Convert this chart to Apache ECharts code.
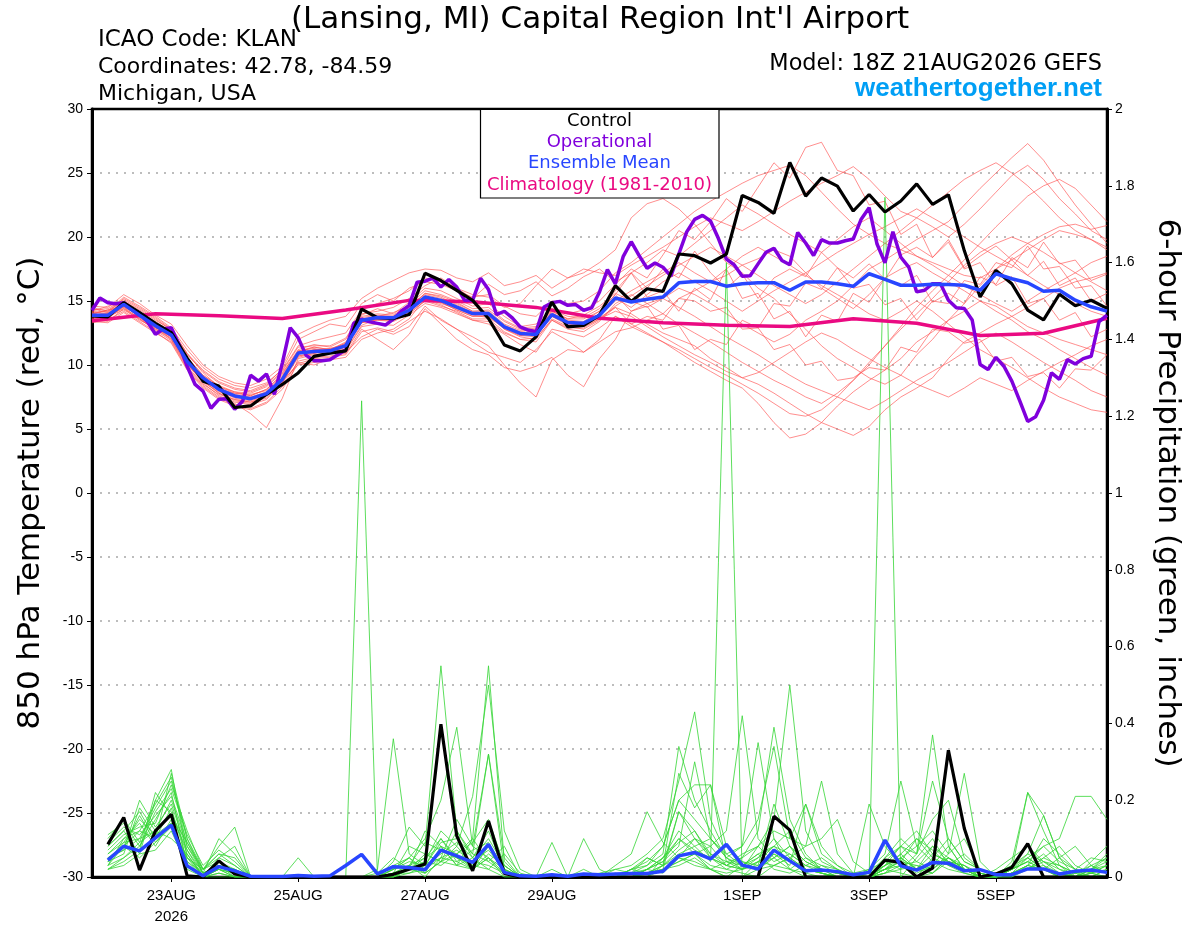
<!DOCTYPE html>
<html><head><meta charset="utf-8">
<script src="https://cdn.jsdelivr.net/npm/echarts@6/dist/echarts.min.js"></script>
<style>html,body{margin:0;padding:0;background:#fff}#chart{width:1200px;height:927px}</style>
</head><body><div id="chart"></div>
<script>
// x positions are hours after 18Z 21AUG2026 (6-hourly ensemble, 3-hourly operational)
const tickHours = [30, 78, 126, 174, 246, 294, 342];
const tickLabels = ['23AUG\n2026', '25AUG', '27AUG', '29AUG', '1SEP', '3SEP', '5SEP'];

const controlTemp = [
 13.84,13.76,14.87,14.1,13.25,12.53,10.54,8.74,8.35,6.68,
 6.8,7.71,8.48,9.38,10.67,10.93,11.11,14.36,13.69,13.63,
 13.94,17.17,16.6,15.83,15.05,13.63,11.56,11.1,12.2,14.92,
 12.98,13.1,13.9,16.2,14.97,15.96,15.75,18.67,18.54,17.97,
 18.67,23.24,22.7,21.85,25.83,23.19,24.61,23.97,22.03,23.32,
 21.95,22.81,24.15,22.55,23.3,18.94,15.32,17.39,16.35,14.29,
 13.52,15.53,14.63,15.06,14.42];

const meanTemp = [
 13.89,13.89,14.74,13.89,13.07,12.35,10.28,8.99,8.09,7.58,
 7.37,7.76,8.87,10.93,11.06,11.11,11.52,13.5,13.71,13.69,
 14.28,15.31,15.05,14.53,14.02,14.02,12.98,12.47,12.39,13.94,
 13.32,13.27,13.89,15.23,14.92,15.13,15.31,16.42,16.52,16.52,
 16.16,16.34,16.43,16.43,15.84,16.48,16.48,16.35,16.15,17.13,
 16.69,16.23,16.23,16.3,16.28,16.23,15.84,17.13,16.74,16.43,
 15.76,15.84,15.06,14.55,14.21];

const operationalTemp = [
 14.28,15.23,14.87,14.79,14.87,14.41,14.02,13.38,12.4,12.81,
 12.91,11.57,9.9,8.48,7.96,6.62,7.32,7.37,6.55,7.19,
 9.2,8.74,9.3,7.71,10.15,12.91,12.14,10.75,10.34,10.34,
 10.41,10.8,11.19,13.25,13.58,13.38,13.25,13.12,13.58,14.2,
 14.66,16.47,16.55,16.78,16.09,16.68,16.09,15.05,15.05,16.78,
 15.9,13.94,14.2,13.68,12.98,12.73,12.6,14.53,14.87,14.97,
 14.66,14.72,14.28,14.46,15.7,17.45,16.34,18.49,19.63,18.54,
 17.56,17.97,17.64,16.94,18.67,20.4,21.38,21.69,21.25,19.88,
 18.28,17.82,16.94,16.97,17.9,18.81,19.12,18.16,17.83,20.35,
 19.53,18.55,19.79,19.53,19.53,19.71,19.84,21.39,22.29,19.45,
 17.98,20.41,18.42,17.65,15.71,15.84,16.35,16.35,15.06,14.47,
 14.42,13.52,10.03,9.65,10.6,9.9,8.74,7.19,5.59,5.95,
 7.25,9.39,8.87,10.42,10.08,10.5,10.68,13.39,13.9];

const climHours = [0,24,48,72,96,120,144,168,192,216,240,264,288,312,336,360,384];
const climTemp = [13.45,14.0,13.84,13.63,14.3,15.05,14.95,14.5,13.65,13.3,13.1,13.0,13.62,13.26,12.3,12.48,13.65];

const tempMembers = [
 [14.2,14.0,15.0,14.3,13.5,12.8,10.9,9.4,8.3,7.9,7.6,8.1,9.3,11.2,11.6,11.4,12.0,13.9,14.4,14.0,14.9,
  16.0,15.8,15.2,14.6,14.8,13.8,13.0,13.2,14.4,14.0,14.3,15.0,
  16.3,17.5,16.8,18.6,20.5,19.8,21.2,23.0,22.0,23.9,25.8,24.6,27.0,27.4,25.2,24.8,22.5,22.8,20.2,21.0,18.4,19.8,17.6,18.5,19.3,18.2,17.0,18.1,16.2,16.8,15.0,15.6],
 [13.6,13.8,14.5,13.6,12.7,11.9,9.8,8.4,7.5,7.0,6.2,5.1,7.4,10.5,10.8,10.9,11.1,13.0,13.2,13.1,13.9,
  14.8,14.5,14.0,13.5,13.2,12.4,11.6,11.0,12.8,12.5,12.2,12.9,
  13.8,13.0,12.4,11.8,11.0,10.2,9.5,8.8,8.2,7.0,5.5,4.3,4.6,5.5,6.8,7.9,8.8,9.6,10.5,11.8,12.6,13.5,14.2,15.0,14.6,13.8,13.0,12.5,12.0,11.6,11.2,10.8],
 [14.5,14.2,15.3,14.6,13.8,12.9,11.2,9.8,8.9,8.4,8.2,8.6,9.6,11.5,11.9,12.2,12.5,14.3,14.8,15.2,15.8,
  16.8,16.5,16.0,15.5,15.3,14.5,14.8,16.2,17.5,16.8,17.2,18.0,
  19.0,21.5,22.6,23.0,22.2,21.0,19.5,18.0,17.2,16.0,15.2,14.0,12.8,11.5,10.5,9.8,9.0,8.5,9.2,10.8,12.0,13.5,14.8,16.2,17.5,18.6,19.5,20.2,20.8,21.0,20.6,20.9],
 [13.3,13.5,14.2,13.4,12.6,11.7,9.6,8.2,7.3,6.8,6.5,7.0,8.1,10.1,10.5,10.6,10.8,12.6,12.9,12.6,13.4,
  14.2,13.6,12.8,12.2,11.5,10.0,8.6,7.5,10.4,11.2,11.0,11.8,
  12.6,12.9,13.5,14.0,15.2,15.8,16.5,17.0,17.8,18.3,19.0,18.5,17.2,16.0,15.2,14.4,15.5,16.8,17.5,18.0,17.2,16.5,15.8,15.0,14.2,13.5,12.6,12.0,11.2,10.5,9.8,9.2],
 [14.0,14.3,14.9,14.0,13.2,12.5,10.6,9.2,8.4,7.9,7.8,8.3,9.4,11.1,11.3,11.0,11.6,13.3,13.8,14.1,14.6,
  15.5,15.2,14.8,14.2,14.3,13.4,12.8,12.5,14.2,13.6,13.9,14.6,
  15.6,15.0,14.5,15.2,16.0,15.5,14.8,14.0,13.2,12.5,11.8,12.4,13.5,14.2,15.0,16.2,17.5,18.2,19.0,19.8,20.5,21.2,22.5,23.8,25.0,26.2,27.3,26.0,24.2,22.5,21.0,19.5],
 [13.8,13.6,14.6,13.8,13.0,12.0,10.0,8.8,7.8,7.2,7.0,7.5,8.7,10.7,10.9,11.3,11.4,13.6,13.5,13.4,14.0,
  15.0,14.9,14.3,13.8,13.9,12.8,12.2,12.0,13.6,13.0,12.8,13.5,
  14.5,14.0,13.2,12.5,12.0,11.5,10.5,9.8,9.0,8.5,7.8,7.0,6.2,5.5,5.0,4.5,5.2,6.5,7.5,8.2,9.0,10.5,11.8,12.5,13.2,13.8,14.5,15.2,16.0,16.5,16.8,17.2],
 [14.6,14.5,15.5,14.8,13.9,13.2,11.5,10.0,9.1,8.6,8.4,8.9,9.9,12.4,13.0,13.5,13.8,15.2,16.0,16.6,17.2,
  17.5,17.4,16.8,16.5,17.2,16.2,16.5,17.0,16.0,16.8,17.5,17.2,
  17.0,17.8,18.5,19.2,20.0,20.8,21.5,21.0,20.5,21.2,22.0,22.8,23.5,24.2,24.8,25.5,24.5,23.2,22.0,21.5,20.8,20.0,21.0,22.2,23.5,24.8,25.6,24.5,23.0,21.8,20.5,19.8],
 [13.5,13.9,14.4,13.5,12.9,12.2,10.2,8.9,8.0,7.6,7.3,7.7,8.8,10.0,10.2,10.4,10.6,12.0,12.5,12.8,13.6,
  15.2,15.0,14.6,14.0,14.1,13.0,12.4,12.6,13.8,13.2,13.0,13.6,
  14.2,13.8,13.0,12.2,11.5,10.8,10.2,9.5,9.0,9.4,10.2,11.0,11.8,12.5,12.0,11.2,10.5,9.8,9.2,8.5,8.0,7.5,8.2,9.0,8.5,8.0,8.8,9.5,10.2,10.8,11.5,12.0],
 [14.1,13.7,14.8,14.1,13.4,12.6,10.4,9.1,8.2,7.7,7.5,7.9,9.0,11.0,11.2,11.2,11.7,13.7,13.9,13.8,14.5,
  15.6,15.3,14.7,14.1,14.0,13.1,12.6,12.8,14.0,13.5,13.4,14.2,
  15.5,17.2,16.0,17.5,16.8,18.9,17.2,16.0,17.1,15.2,16.8,17.5,16.9,18.8,17.6,16.8,17.9,16.7,18.6,19.2,18.4,19.6,17.5,18.0,16.2,16.9,14.8,15.2,13.5,14.1,12.2,12.8],
 [13.9,14.1,14.7,13.7,12.8,12.1,10.1,8.6,7.6,7.1,6.9,7.3,8.6,10.6,10.9,11.1,11.2,13.1,13.6,13.5,14.1,
  15.0,14.6,14.2,13.6,13.6,12.6,12.0,11.8,13.5,12.8,12.6,13.4,
  14.8,15.5,14.8,14.0,13.2,12.5,11.8,11.0,10.2,9.5,8.8,8.2,7.5,7.0,7.8,8.8,10.0,11.5,13.0,14.5,15.8,17.0,18.2,19.5,20.8,22.0,23.2,24.0,24.5,23.8,22.5,21.2],
 [14.3,14.4,15.1,14.4,13.6,12.7,10.8,9.5,8.6,8.1,7.9,8.4,9.5,11.4,11.5,11.5,12.1,14.0,14.2,14.5,15.2,
  16.2,16.8,16.0,15.2,16.3,15.5,15.8,16.5,15.4,16.0,16.9,17.5,
  16.5,17.2,18.0,19.0,18.5,19.5,20.5,21.5,22.5,21.8,21.0,20.2,19.5,18.8,19.8,20.8,21.5,20.5,19.5,18.5,17.8,17.0,16.2,15.5,14.8,14.2,15.0,15.8,16.5,17.2,18.0,18.5],
 [13.4,13.3,14.1,13.3,12.5,11.8,9.7,8.3,7.4,6.9,6.6,7.1,8.3,10.3,10.6,10.7,10.9,12.8,12.0,11.2,12.4,
  14.4,13.2,12.0,11.2,10.8,9.8,9.5,9.9,10.6,9.2,8.3,10.5,
  12.0,14.2,14.8,15.2,14.5,13.8,13.0,12.2,11.5,10.8,10.0,9.2,8.5,8.0,7.5,7.0,6.5,7.2,8.0,8.8,9.5,10.2,11.0,11.8,12.5,11.8,11.0,10.2,9.5,8.8,8.0,7.5],
 [14.0,13.9,14.6,13.9,13.1,12.3,10.3,8.9,8.0,7.4,7.2,7.6,8.9,10.9,11.1,11.0,11.5,13.4,13.6,13.6,14.3,
  15.2,14.8,14.4,13.9,13.7,12.9,12.3,12.2,13.8,13.1,13.2,13.8,
  15.0,15.8,16.5,17.2,18.0,17.2,16.5,17.5,18.5,19.2,18.5,17.8,17.0,16.2,15.5,14.8,14.0,13.5,14.2,15.0,14.2,13.2,12.2,11.2,10.5,9.8,9.0,8.2,7.5,7.0,6.5,6.3],
 [14.4,14.1,15.2,14.5,13.7,12.8,10.9,9.6,8.7,8.2,8.0,8.5,9.7,12.0,12.6,13.2,13.0,14.8,15.5,15.0,16.0,
  16.5,16.3,15.8,15.3,15.5,14.6,14.0,13.8,15.0,14.8,15.0,15.8,
  17.2,18.0,19.0,20.0,21.0,22.0,22.8,23.5,24.2,24.8,25.2,25.6,24.8,23.5,22.2,21.0,20.2,19.5,19.0,18.5,18.0,17.5,17.0,16.8,17.5,18.2,19.0,19.8,20.5,20.2,19.8,19.2],
 [13.7,13.8,14.3,13.6,12.8,12.0,9.9,8.5,7.7,7.3,7.1,7.4,8.6,10.2,10.0,10.5,11.0,12.2,12.8,12.4,13.0,
  14.6,13.5,12.8,11.8,11.0,10.6,10.2,11.2,12.6,11.9,11.0,12.0,
  13.8,13.2,12.5,11.8,11.2,10.5,9.8,9.2,8.5,7.8,7.0,6.2,6.0,6.5,7.5,8.8,10.2,11.5,12.8,14.0,15.2,16.5,17.8,18.8,19.5,20.0,19.5,18.8,18.0,17.2,16.5,15.8],
 [14.2,14.6,14.9,14.2,13.3,12.4,10.5,9.0,8.1,7.8,7.7,8.0,9.1,11.0,11.4,11.2,11.8,13.8,14.0,13.9,14.7,
  15.8,15.5,15.0,14.4,14.5,13.5,12.9,13.0,14.3,13.8,13.7,14.4,
  15.8,17.2,15.3,15.8,14.2,16.0,15.1,17.5,15.2,15.6,13.6,14.2,12.2,13.9,13.4,15.6,14.9,16.8,16.2,17.0,14.9,15.6,14.8,16.9,16.3,18.4,17.6,19.6,17.9,18.2,16.6,17.1],
 [13.6,13.4,14.4,13.7,12.9,12.2,10.2,8.7,7.9,7.5,7.4,7.8,8.9,10.9,11.0,10.9,11.4,13.3,13.5,13.5,14.2,
  15.1,14.7,14.1,13.5,13.4,12.5,12.0,12.1,13.5,12.9,12.9,13.6,
  14.6,15.4,16.2,17.0,17.8,18.5,19.2,18.5,17.8,17.0,16.2,15.5,14.8,15.5,16.5,17.5,18.5,19.5,20.5,21.5,22.5,23.5,24.5,25.2,25.8,25.0,24.0,22.8,21.5,20.5,19.8,19.0],
 [14.1,14.2,14.8,14.0,13.2,12.3,10.2,8.8,8.0,7.5,7.3,7.8,8.9,10.8,11.2,11.3,11.6,13.6,13.8,13.7,14.4,
  15.4,15.0,14.5,14.0,13.9,12.8,12.3,12.4,13.9,13.3,13.1,13.7,
  14.5,13.2,13.8,13.5,15.2,15.0,14.2,14.5,12.8,12.9,11.2,11.6,10.0,10.3,8.8,9.0,9.8,9.6,11.4,11.0,12.8,12.6,11.7,12.0,10.3,10.6,9.1,9.4,8.2,9.7,9.6,10.8],
 [13.9,14.0,14.6,13.8,13.0,12.2,10.1,8.7,7.8,7.3,7.1,7.6,8.7,10.7,11.0,11.1,11.4,13.3,13.6,13.6,14.2,
  15.3,14.9,14.3,13.8,13.8,12.9,12.5,12.6,14.1,13.4,13.3,14.0,
  15.2,14.5,15.5,16.5,17.2,16.5,15.8,15.0,14.2,15.0,15.8,16.5,17.2,18.0,18.8,19.5,20.2,20.8,21.5,22.2,21.5,20.8,20.0,19.2,18.5,17.8,17.0,16.2,15.5,14.8,14.2,13.8],
 [14.0,14.3,14.5,13.9,13.2,12.5,10.6,9.2,8.3,7.8,7.6,8.1,9.2,11.1,11.4,11.2,11.7,13.5,13.7,13.8,14.5,
  15.6,15.4,14.9,14.2,14.2,13.2,12.7,12.9,14.2,13.6,13.6,14.2,
  15.5,14.2,14.6,12.8,13.1,11.2,12.0,11.6,13.5,12.9,14.8,14.6,16.4,15.9,17.6,16.0,16.3,14.7,15.2,13.5,15.0,14.8,16.6,16.3,18.0,17.6,19.3,17.5,17.7,16.0,16.2,14.6]
];

// precipitation: first value is 00Z 22AUG (hour 6), 6-hourly
const controlPrecip = [
 .085,.155,.018,.12,.163,.003,0,.042,
 .008,0,0,0,0,0,0,0,
 0,0,.007,.02,.034,.398,.107,.016,
 .146,.009,0,0,0,0,0,0,
 0,0,0,0,0,0,0,0,
 0,0,.158,.122,0,0,0,0,
 0,.044,.038,0,.023,.33,.127,0,
 .008,.025,.087,0,0,0,0,0];

const meanPrecip = [
 .044,.08,.068,.102,.135,.029,.003,.027,
 .016,.002,.001,.001,.004,.002,.003,.03,
 .059,.008,.027,.025,.019,.07,.055,.038,
 .085,.012,.003,.002,.006,.002,.008,.006,
 .008,.009,.009,.015,.055,.064,.047,.085,
 .031,.021,.07,.042,.016,.018,.014,.006,
 .012,.096,.029,.018,.038,.036,.016,.019,
 .006,.006,.021,.021,.008,.015,.018,.012];

const precipMembers = [
 [.05,.08,.12,.10,.18,.04,0,.02, .01,0,0,0,0,0,0,0, 1.24,0,.02,.05,.01,.08,.03,.02, .05,0,0,0,0,0,.02,0, 0,0,.02,.05,.10,.06,.02,0, .03,.05,.10,.02,0,0,.01,0, 0,.02,.05,0,.03,.08,.02,0, 0,.01,.05,.02,0,0,.03,.01],
 [.02,.05,.08,.15,.22,.03,0,0, 0,0,0,0,0,0,0,0, 0,.01,.05,.02,.12,.08,.03,.10, .04,.01,0,0,0,0,0,.01, .02,.01,0,.05,.12,.08,.04,1.60, 0,.02,.06,.04,.01,0,0,0, 0,.02,.03,0,.01,.05,.02,0, 0,.03,.08,.04,.01,0,.02,.05],
 [.08,.12,.06,.20,.28,.05,.02,.06, .03,0,0,0,0,0,0,0, 0,0,0,.03,0,.05,.15,.08, .32,.02,0,0,0,0,0,0, 0,0,.01,.02,.03,.05,.02,0, 0,.04,.08,.12,.05,.02,.01,0, 0,1.77,0,.05,.10,.03,.01,0, .02,.05,.08,.03,0,.01,.02,.04],
 [.03,.10,.14,.08,.15,.02,0,.05, .08,0,0,0,0,0,0,0, 0,.02,.36,.06,.03,.10,.05,.02, .08,.01,0,0,.02,0,0,0, 0,.02,.05,.03,.17,.10,.05,.02, .01,0,.03,.05,.02,.01,0,0, .01,.05,.10,.06,.37,.08,.02,0, 0,.02,.04,.02,0,0,.01,0],
 [.10,.15,.09,.12,.20,.08,.01,.03, .02,0,0,0,0,0,0,0, 0,0,.04,.13,.08,.55,.12,.05, .10,.03,0,0,0,0,0,0, 0,.01,.03,.08,.20,.15,.10,.05, .02,.08,.15,.50,.12,.04,.02,0, 0,.03,.06,.02,.01,.04,.03,0, 0,0,.02,.05,.03,0,0,.02],
 [.04,.06,.18,.12,.10,.06,0,.01, 0,0,0,0,0,0,0,0, 0,0,.02,.05,.10,.20,.39,.08, .05,.02,0,0,0,0,0,0, .02,.03,.06,.10,.25,.43,.15,.06, .03,.02,.05,.08,.04,.02,0,0, 0,.05,.08,.04,.02,.06,.10,.02, 0,.02,.05,.08,.04,.02,0,0],
 [.06,.09,.10,.18,.25,.10,.02,.08, .13,0,0,0,0,0,0,0, 0,0,.01,.03,.05,.08,.06,.10, .55,.04,0,0,0,0,0,0, 0,0,.02,.01,.05,.10,.08,.12, .42,.10,.05,.02,.01,.03,.02,0, 0,.02,.01,0,.05,.10,.04,.02, 0,.01,.03,.06,.02,0,.04,.08],
 [.02,.04,.07,.22,.16,.07,.01,.10, .06,0,0,0,.05,0,0,0, 0,0,.03,.02,.04,.12,.08,.21, .50,.12,.02,0,0,0,0,0, 0,0,0,.02,.04,.06,.08,.03, .05,.12,.39,.15,.06,.02,0,0, 0,.03,.05,.02,.08,.04,.02,0, 0,.02,.22,.16,.05,0,.01,.03],
 [.07,.11,.13,.14,.24,.12,.02,.04, .01,0,0,0,0,0,0,0, 0,0,.02,.04,.03,.09,.10,.06, .32,.05,0,0,0,0,0,0, .01,0,.01,.03,.06,.08,.10,.05, .08,.15,.34,.10,.08,.25,.06,.01, 0,.02,.04,.03,.01,.05,.02,0, 0,.02,.06,.04,.02,.01,.03,.05],
 [.03,.08,.16,.09,.13,.05,.01,.03, .02,0,0,0,0,0,0,0, 0,0,.01,.02,.06,.04,.08,.03, .02,.06,.01,0,.09,0,0,0, 0,.02,.03,.06,.34,.20,.12,.05, .03,.06,.08,.04,.02,.01,0,0, .02,.06,.25,.08,.04,.02,.01,0, 0,.01,.03,.02,0,0,.02,.01],
 [.09,.13,.11,.16,.21,.09,.02,.05, .03,0,0,0,0,0,0,0, 0,0,0,.02,.05,.10,.04,.02, .06,.03,0,0,0,0,0,0, 0,0,.02,.04,.08,.30,.10,.06, .08,.35,.10,.05,.02,.01,0,0, 0,.01,.05,.08,.12,.06,.27,.04, 0,.01,.02,.05,.08,.03,.01,0],
 [.05,.07,.20,.13,.19,.07,0,.02, .01,0,0,0,0,0,0,0, 0,0,.01,.02,.03,.06,.09,.05, .12,.02,0,0,0,0,.10,.02, 0,.01,.05,.03,.27,.18,.24,.04, .02,.04,.06,.03,.19,.08,.03,0, 0,.04,.02,.06,.15,.20,.05,.02, 0,.03,.05,.02,.01,0,0,.02],
 [.11,.14,.08,.17,.23,.11,.03,.07, .04,0,0,0,0,0,0,0, 0,0,.03,.05,.02,.07,.05,.03, .08,.01,0,0,0,0,0,0, 0,0,.01,.02,.17,.12,.06,.03, .02,.03,.19,.08,.04,.02,.01,0, .19,.08,.03,.01,.03,.05,.02,.01, 0,.04,.22,.12,.03,.01,0,0],
 [.04,.09,.15,.11,.14,.04,.01,.03, 0,0,0,0,0,0,0,0, 0,0,0,.01,.03,.05,.07,.04, .03,.01,0,0,0,0,0,0, 0,.02,.04,.08,.20,.24,.24,.08, .04,.02,.03,.05,.08,.10,.15,.04, .01,.02,.06,.10,.05,.03,.02,.01, 0,.02,.04,.08,.10,.21,.21,.15],
 [.06,.10,.12,.19,.26,.08,.02,.06, .05,0,0,0,0,0,0,0, 0,0,.01,.08,.06,.04,.12,.06, .04,.08,0,0,0,0,0,0, 0,0,.02,.05,.09,.12,.05,.03, .06,.08,.12,.10,.19,.06,.03,.01, .02,.04,.08,.06,.25,.10,.04,.02, .01,.03,.06,.16,.05,.02,.01,.03],
 [.03,.05,.09,.20,.17,.06,0,.04, .02,0,0,0,0,0,0,0, 0,0,.02,.03,.01,.04,.06,.09, .15,.03,0,0,0,0,0,0, .03,.06,.17,.09,.05,.04,.02,.01, .02,.05,.08,.06,.03,.02,.01,0, 0,.03,.05,.02,.06,.04,.03,.01, 0,.01,.02,.04,.03,.01,.02,.06],
 [.08,.12,.17,.10,.27,.10,.01,.03, .01,0,0,0,0,0,0,0, 0,0,.01,.01,.02,.05,.04,.07, .09,.02,0,0,0,0,0,0, 0,0,0,.03,.07,.10,.06,.04, .05,.08,.04,.06,.03,.01,0,0, .01,.03,.08,.12,.06,.04,.02,.01, 0,0,.03,.10,.06,.02,.05,.04],
 [.02,.03,.06,.07,.12,.03,0,.01, 0,0,0,0,0,0,0,0, 0,0,0,.02,.04,.03,.06,.02, .05,.01,0,0,0,0,0,0, 0,.02,.01,.02,.04,.06,.03,.02, .04,.03,.05,.08,.02,.01,0,0, 0,.01,.03,.04,.08,.05,.02,0, 0,.01,.02,.03,.01,0,.01,.02],
 [.05,.07,.10,.12,.16,.09,.01,.02, 0,0,0,0,0,0,0,0, 0,0,.01,.03,.09,.07,.05,.04, .07,.02,0,0,0,0,0,0, 0,.01,.02,.04,.10,.07,.05,.03, .02,.04,.03,.02,.05,.03,.01,0, 0,.02,.04,.10,.07,.03,.06,.02, 0,.02,.04,.02,.05,.08,.03,.01],
 [.04,.08,.05,.09,.14,.05,0,.02, 0,0,0,0,0,0,0,0, 0,0,0,.02,.01,.04,.03,.05, .02,0,0,0,0,0,0,0, 0,0,.01,.03,.05,.03,.02,.04, .03,.06,.02,.01,.03,.05,.02,0, 0,.01,.02,.03,.02,.05,.03,0, 0,.01,.03,.02,.01,0,.02,.03]
];

const FONT_TXT = 'DejaVu Sans, Verdana, sans-serif';
const FONT_TICK = 'Liberation Sans, Arial, Helvetica, sans-serif';
const COL_OP = '#8000dc', COL_MEAN = '#2846ff', COL_CLIM = '#ea0a82';

const chart = echarts.init(document.getElementById('chart'), null, {renderer: 'canvas'});
const series = [];
tempMembers.forEach(m => series.push({
  type: 'line', yAxisIndex: 0, symbol: 'none', silent: true, z: 2, emphasis: {disabled: true},
  data: m.map((v, i) => [i * 6, v]),
  lineStyle: {color: '#ff5050', width: 0.9, opacity: 0.72}
}));
precipMembers.forEach(m => series.push({
  type: 'line', yAxisIndex: 1, symbol: 'none', silent: true, z: 2, emphasis: {disabled: true},
  data: m.map((v, k) => [6 + k * 6, v]),
  lineStyle: {color: '#36d636', width: 0.9, opacity: 0.9}
}));
series.push({type: 'line', yAxisIndex: 0, symbol: 'none', silent: true, z: 3,
  data: climHours.map((h, n) => [h, climTemp[n]]), lineStyle: {color: COL_CLIM, width: 3.5}});
series.push({type: 'line', yAxisIndex: 1, symbol: 'none', silent: true, z: 4,
  data: controlPrecip.map((v, k) => [6 + k * 6, v]), lineStyle: {color: '#000', width: 3.2}});
series.push({type: 'line', yAxisIndex: 1, symbol: 'none', silent: true, z: 5,
  data: meanPrecip.map((v, k) => [6 + k * 6, v]), lineStyle: {color: COL_MEAN, width: 3.5}});
series.push({type: 'line', yAxisIndex: 0, symbol: 'none', silent: true, z: 5,
  data: operationalTemp.map((v, j) => [j * 3, v]), lineStyle: {color: COL_OP, width: 3.5}});
series.push({type: 'line', yAxisIndex: 0, symbol: 'none', silent: true, z: 6,
  data: controlTemp.map((v, i) => [i * 6, v]), lineStyle: {color: '#000', width: 3.2}});
series.push({type: 'line', yAxisIndex: 0, symbol: 'none', silent: true, z: 7,
  data: meanTemp.map((v, i) => [i * 6, v]), lineStyle: {color: COL_MEAN, width: 3.5}});

const txt = (x, y, text, opt) => Object.assign({type: 'text', x: x, y: y, z: 100,
  style: Object.assign({text: text, fontFamily: FONT_TXT, fontSize: 22, fill: '#000', align: 'left', verticalAlign: 'middle'}, opt || {})});

chart.setOption({
  animation: false,
  backgroundColor: '#fff',
  grid: {left: 92, right: 93, top: 109, bottom: 44, show: true, borderColor: '#000', borderWidth: 2.5, backgroundColor: 'transparent'},
  xAxis: {
    type: 'value', min: 0, max: 384,
    axisLine: {show: true, onZero: false, lineStyle: {color: '#000', width: 3}},
    axisTick: {show: true, customValues: tickHours, length: 5, lineStyle: {color: '#000', width: 1}},
    axisLabel: {customValues: tickHours, formatter: v => tickLabels[tickHours.indexOf(v)],
      color: '#000', fontSize: 15, fontFamily: FONT_TICK, margin: 8, lineHeight: 21},
    splitLine: {show: false}
  },
  yAxis: [{
    type: 'value', min: -30, max: 30, interval: 5, position: 'left',
    name: '850 hPa Temperature (red, °C)', nameLocation: 'middle', nameGap: 46, nameRotate: 90,
    nameTextStyle: {fontSize: 31, fontFamily: FONT_TXT, color: '#000'},
    axisLine: {show: true, onZero: false, lineStyle: {color: '#000', width: 3}},
    axisTick: {show: true, length: 5, lineStyle: {color: '#000'}},
    axisLabel: {color: '#000', fontSize: 14, fontFamily: FONT_TICK, margin: 9},
    splitLine: {show: true, showMinLine: false, showMaxLine: false, lineStyle: {color: '#a8a8a8', width: 1.5, type: [2, 6]}}
  }, {
    type: 'value', min: 0, max: 2, interval: 0.2, position: 'right',
    name: '6-hour Precipitation (green, inches)', nameLocation: 'middle', nameGap: 45, nameRotate: -90,
    nameTextStyle: {fontSize: 31, fontFamily: FONT_TXT, color: '#000'},
    axisLine: {show: true, onZero: false, lineStyle: {color: '#000', width: 3}},
    axisTick: {show: true, length: 5, lineStyle: {color: '#000'}},
    axisLabel: {color: '#000', fontSize: 14, fontFamily: FONT_TICK, margin: 8,
      formatter: v => String(Math.round(v * 10) / 10)},
    splitLine: {show: false}
  }],
  graphic: [
    txt(600, 20, "(Lansing, MI) Capital Region Int'l Airport", {fontSize: 31, align: 'center'}),
    txt(98, 40, 'ICAO Code: KLAN', {fontSize: 23}),
    txt(98, 67, 'Coordinates: 42.78, -84.59'),
    txt(98, 94, 'Michigan, USA'),
    txt(1102, 64, 'Model: 18Z 21AUG2026 GEFS', {align: 'right', fontSize: 22.4}),
    txt(1102, 89, 'weathertogether.net', {align: 'right', fontFamily: FONT_TICK, fontWeight: 'bold', fontSize: 26, fill: '#009ff5'}),
    {type: 'rect', z: 99, shape: {x: 480.5, y: 109.5, width: 238.5, height: 88.5}, style: {fill: '#fff', stroke: '#000', lineWidth: 1.2}},
    txt(599.5, 121, 'Control', {fontSize: 18, align: 'center'}),
    txt(599.5, 142, 'Operational', {fontSize: 18, align: 'center', fill: COL_OP}),
    txt(599.5, 163.5, 'Ensemble Mean', {fontSize: 18, align: 'center', fill: COL_MEAN}),
    txt(599.5, 185, 'Climatology (1981-2010)', {fontSize: 18, align: 'center', fill: COL_CLIM})
  ],
  series: series
});
</script>
</body></html>
